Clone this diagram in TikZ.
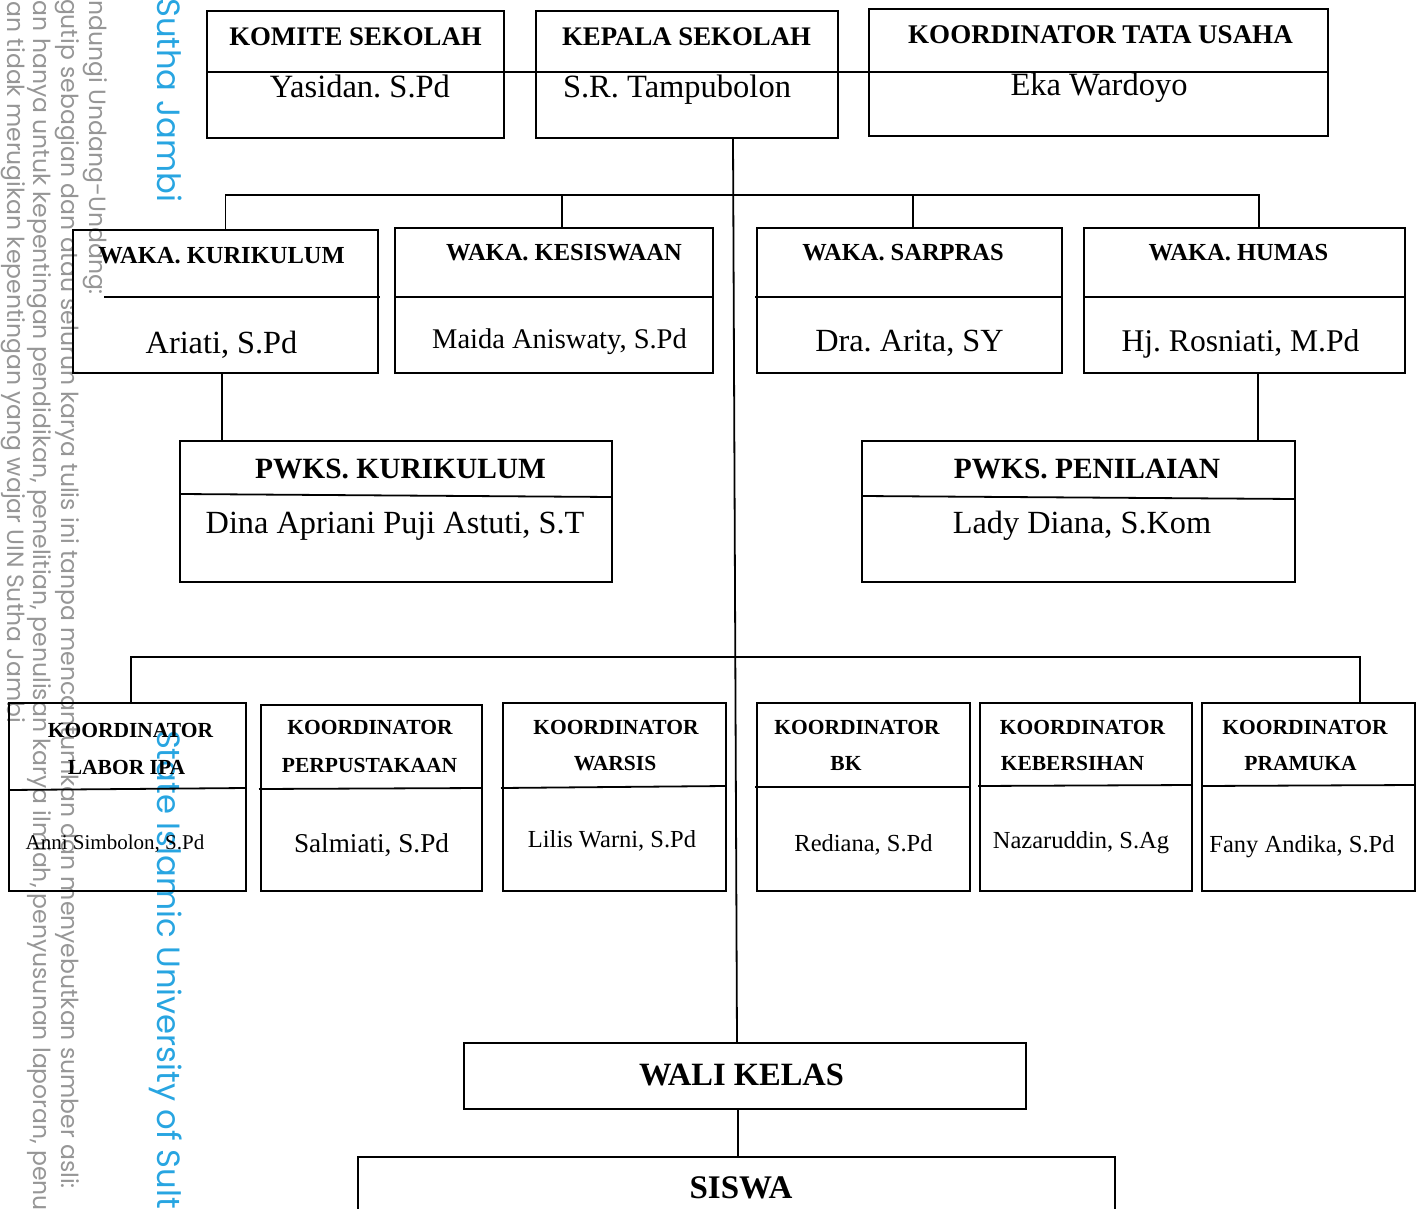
\documentclass[tikz,border=0pt]{standalone}
\usepackage{fontspec}
\setmainfont{Liberation Serif}
\newfontfamily\wmfont{Poppins}
\definecolor{wmgray}{RGB}{150,150,150}
\definecolor{wmblue}{RGB}{40,165,225}
\newcommand\myfs[1]{\fontsize{#1}{#1}\selectfont}
\frenchspacing
\tikzset{
  box/.style={draw, line width=1.8pt, inner sep=0pt, outer sep=0pt},
  ln/.style={line width=1.8pt},
  hd/.style={anchor=base, inner sep=0pt, outer sep=0pt, font=\bfseries\myfs{#1}},
  nm/.style={anchor=base, inner sep=0pt, outer sep=0pt, font=\myfs{#1}},
  wm/.style={inner sep=0pt, outer sep=0pt, text=wmgray, font=\wmfont\myfs{23.5}, rotate=-90},
  wmb/.style={inner sep=0pt, outer sep=0pt, text=wmblue, font=\wmfont\myfs{32.2}, rotate=-90},
}
\begin{document}
\frenchspacing
\begin{tikzpicture}[x=1pt,y=-1pt]
\useasboundingbox (0,0) rectangle (1422,1209);

% watermark
\begin{scope}
\clip (0,0) rectangle (1422,1209);
\node[wm, anchor=base east] (w1) at (7,723) {an tidak merugikan kepentingan yang wajar UIN Sutha Jambi};
\node[wm, anchor=base west] (w2) at (33,1) {an hanya untuk kepentingan pendidikan, penelitian, penulisan karya ilmiah, penyusunan laporan, penu};
\node[wm, anchor=base east] (w3) at (61,1189) {gutip sebagian dan atau seluruh karya tulis ini tanpa mencantumkan dan menyebutkan sumber asli:};
\node[wm, anchor=base east] (w4) at (89,295) {ndungi Undang-Undang:};
\node[wmb, anchor=base east] (wb1) at (157,202) {Sutha Jambi};
\node[wmb, anchor=base west] (wb2) at (157,730) {State Islamic University of Sult};
\end{scope}

% top row
\node[box, minimum width=297pt, minimum height=127pt] (komite) at (355.5,74.5) {};
\node[box, minimum width=302pt, minimum height=127pt] (kepala) at (687,74.5) {};
\node[box, minimum width=459pt, minimum height=127pt] (tu) at (1098.5,72.5) {};
\draw[ln] (207,72) -- (1328,72);
\node[hd=26.8] (komiteT) at (355.5,46) {KOMITE SEKOLAH};
\node[nm=32.5] (komiteN) at (360,98) {Yasidan. S.Pd};
\node[hd=26.8] (kepalaT) at (686.5,46) {KEPALA SEKOLAH};
\node[nm=32.5] (kepalaN) at (677,98) {S.R. Tampubolon};
\node[hd=27] (tuT) at (1100.5,44) {KOORDINATOR TATA USAHA};
\node[nm=32.5] (tuN) at (1099,96) {Eka Wardoyo};

% waka row
\node[box, minimum width=305pt, minimum height=143pt] (wk1) at (225.5,301.5) {};
\node[box, minimum width=318pt, minimum height=145pt] (wk2) at (554,300.5) {};
\node[box, minimum width=305pt, minimum height=145pt] (wk3) at (909.5,300.5) {};
\node[box, minimum width=321pt, minimum height=145pt] (wk4) at (1244.5,300.5) {};
\draw[ln] (104,297) -- (380,297);
\draw[ln] (395,297) -- (713,297);
\draw[ln] (755,297) -- (1062,297);
\draw[ln] (1084,297) -- (1405,297);
\node[hd=24.5] (wk1T) at (221.5,263) {WAKA. KURIKULUM};
\node[nm=32.3] (wk1N) at (221.5,353.5) {Ariati, S.Pd};
\node[hd=24.5] (wk2T) at (564,261) {WAKA. KESISWAAN};
\node[nm=28.5] (wk2N) at (559.5,348.5) {Maida Aniswaty, S.Pd};
\node[hd=24.5] (wk3T) at (903,261) {WAKA. SARPRAS};
\node[nm=32.3] (wk3N) at (909.5,351.5) {Dra. Arita, SY};
\node[hd=24.5] (wk4T) at (1238.5,261) {WAKA. HUMAS};
\node[nm=31.6] (wk4N) at (1240.5,351) {Hj. Rosniati, M.Pd};

% pwks row
\node[box, minimum width=432pt, minimum height=141pt] (pk) at (396,511.5) {};
\node[box, minimum width=433pt, minimum height=141pt] (pp) at (1078.5,511.5) {};
\draw[ln] (180,494) -- (612,497);
\draw[ln] (862,496) -- (1295,499);
\node[hd=29.4] (pkT) at (400.5,478.5) {PWKS. KURIKULUM};
\node[nm=32.3] (pkN) at (395,533.5) {Dina Apriani Puji Astuti, S.T};
\node[hd=29.4] (ppT) at (1087,478.5) {PWKS. PENILAIAN};
\node[nm=32.3] (ppN) at (1082,533.5) {Lady Diana, S.Kom};

% koordinator row
\node[box, minimum width=237pt, minimum height=188pt] (k1) at (127.5,797) {};
\node[box, minimum width=221pt, minimum height=186pt] (k2) at (371.5,798) {};
\node[box, minimum width=223pt, minimum height=188pt] (k3) at (614.5,797) {};
\node[box, minimum width=213pt, minimum height=188pt] (k4) at (863.5,797) {};
\node[box, minimum width=212pt, minimum height=188pt] (k5) at (1086,797) {};
\node[box, minimum width=213pt, minimum height=188pt] (k6) at (1308.5,797) {};
\draw[ln] (9,790) -- (246,788);
\draw[ln] (259,789) -- (482,788);
\draw[ln] (501,788) -- (726,786);
\draw[ln] (755,787) -- (970,787);
\draw[ln] (978,786) -- (1192,785);
\draw[ln] (1202,786) -- (1415,785);
\node[hd=21.5] (k1T) at (130.5,737) {KOORDINATOR};
\node[hd=21.5] (k1U) at (126.5,774) {LABOR IPA};
\node[nm=21] (k1N) at (115,849) {Anni Simbolon, S.Pd};
\node[hd=21.5] (k2T) at (370,734) {KOORDINATOR};
\node[hd=21.5] (k2U) at (369.5,772) {PERPUSTAKAAN};
\node[nm=27.2] (k2N) at (371.5,852) {Salmiati, S.Pd};
\node[hd=21.5] (k3T) at (616,734) {KOORDINATOR};
\node[hd=21.5] (k3U) at (615,770) {WARSIS};
\node[nm=24.5] (k3N) at (612,847) {Lilis Warni, S.Pd};
\node[hd=21.5] (k4T) at (857,734) {KOORDINATOR};
\node[hd=21.5] (k4U) at (846,770) {BK};
\node[nm=24.5] (k4N) at (863.5,851) {Rediana, S.Pd};
\node[hd=21.5] (k5T) at (1082.5,734) {KOORDINATOR};
\node[hd=21.5] (k5U) at (1072.5,770) {KEBERSIHAN};
\node[nm=24.5] (k5N) at (1081,848) {Nazaruddin, S.Ag};
\node[hd=21.5] (k6T) at (1305,734) {KOORDINATOR};
\node[hd=21.5] (k6U) at (1300.5,770) {PRAMUKA};
\node[nm=24.5] (k6N) at (1302,852) {Fany Andika, S.Pd};

% wali & siswa
\node[box, minimum width=562pt, minimum height=66pt] (wali) at (745,1076) {};
\node[hd=32.5] (waliT) at (741.5,1085.5) {WALI KELAS};
\begin{scope}
\clip (0,0) rectangle (1422,1209);
\node[box, minimum width=757pt, minimum height=60pt] (siswa) at (736.5,1187) {};
\end{scope}
\node[hd=33] (siswaT) at (741,1198) {SISWA};

% connectors
\coordinate (wy) at (0,195);
\coordinate (ky) at (0,657);
\coordinate (trunkTop) at ([xshift=46pt]kepala.south);
\coordinate (trunkBot) at ([xshift=-8pt]wali.north);
\draw[ln] (trunkTop) -- (trunkBot);

\coordinate (w1top) at (wk1.north);
\coordinate (w2top) at ([xshift=8pt]wk2.north);
\coordinate (w3top) at ([xshift=3.5pt]wk3.north);
\coordinate (w4top) at ([xshift=14.5pt]wk4.north);
\draw[ln] (w1top) -- (w1top |- wy) -- (w4top |- wy) -- (w4top);
\draw[ln] (w2top |- wy) -- (w2top);
\draw[ln] (w3top |- wy) -- (w3top);

\coordinate (w1bot) at ([xshift=-3.5pt]wk1.south);
\draw[ln] (w1bot) -- (w1bot |- pk.north);
\coordinate (w4bot) at ([xshift=13.5pt]wk4.south);
\draw[ln] (w4bot) -- (w4bot |- pp.north);

\coordinate (k1top) at ([xshift=3.5pt]k1.north);
\coordinate (k6top) at ([xshift=51.5pt]k6.north);
\draw[ln] (k1top) -- (k1top |- ky) -- (k6top |- ky) -- (k6top);

\coordinate (wbot) at ([xshift=-7pt]wali.south);
\draw[ln] (wbot) -- (wbot |- siswa.north);
\end{tikzpicture}
\end{document}
